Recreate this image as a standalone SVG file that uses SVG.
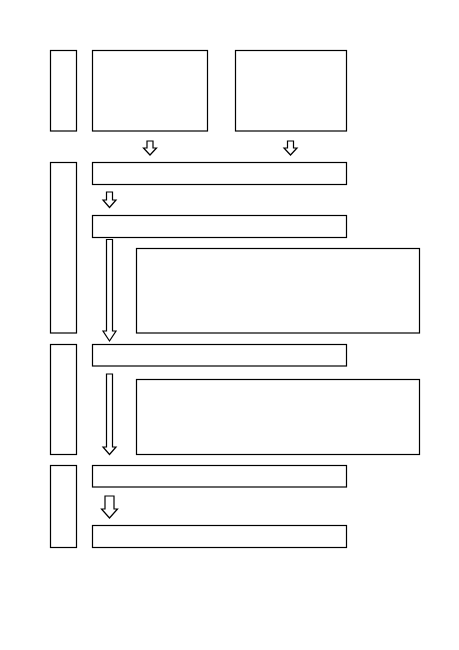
<svg xmlns="http://www.w3.org/2000/svg" width="459" height="650" viewBox="0 0 459 650">
<style>
.box{fill:#fff;stroke:#000;stroke-width:1.2}
.arr{fill:#fff;stroke:#000;stroke-width:1.2;stroke-linejoin:miter}
</style>
<rect width="459" height="650" fill="#fff"/>
<g id="side1"><rect class="box" x="50.5" y="50.5" width="26" height="80.5"/></g>
<g id="top1"><rect class="box" x="92.5" y="50.5" width="115" height="80.5"/></g>
<g id="top2"><rect class="box" x="235.5" y="50.5" width="111" height="80.5"/></g>
<g id="side2"><rect class="box" x="50.5" y="162.5" width="26" height="170.5"/></g>
<g id="bar1"><rect class="box" x="92.5" y="162.5" width="254" height="22"/></g>
<g id="bar2"><rect class="box" x="92.5" y="215.5" width="254" height="22"/></g>
<g id="note1"><rect class="box" x="136.5" y="248.5" width="283" height="84.5"/></g>
<g id="side3"><rect class="box" x="50.5" y="344.5" width="26" height="110"/></g>
<g id="bar3"><rect class="box" x="92.5" y="344.5" width="254" height="21.5"/></g>
<g id="note2"><rect class="box" x="136.5" y="379.5" width="283" height="75"/></g>
<g id="side4"><rect class="box" x="50.5" y="465.5" width="26" height="82"/></g>
<g id="bar4"><rect class="box" x="92.5" y="465.5" width="254" height="21.5"/></g>
<g id="bar5"><rect class="box" x="92.5" y="525.5" width="254" height="22"/></g>
<g id="connectors">
<path class="arr" d="M147,141 H153 V148 H156.5 L150,155 L143.5,148 H147 Z"/>
<path class="arr" d="M287.5,141 H293.5 V148 H297 L290.5,155 L284,148 H287.5 Z"/>
<path class="arr" d="M106.5,192 H112.5 V200 H116 L109.5,207.5 L103,200 H106.5 Z"/>
<path class="arr" d="M106.5,239.5 H112.5 V331 H116 L109.5,341 L103,331 H106.5 Z"/>
<path class="arr" d="M106.5,374 H112.5 V447 H116 L109.5,454.5 L103,447 H106.5 Z"/>
<path class="arr" d="M105,496 H114 V509 H117.5 L109.5,518 L101.5,509 H105 Z"/>
</g>
</svg>
